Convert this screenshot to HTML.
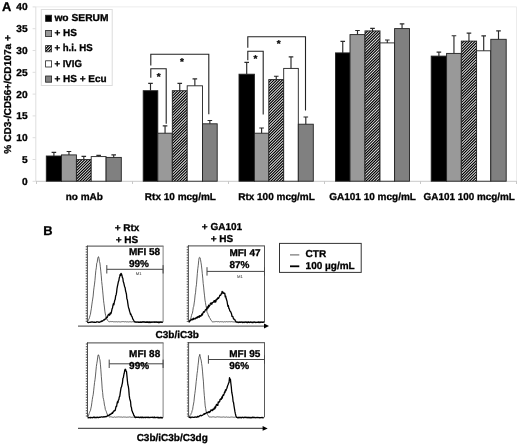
<!DOCTYPE html>
<html><head><meta charset="utf-8"><title>Figure</title>
<style>
html,body{margin:0;padding:0;background:#fff;}
body{width:520px;height:447px;overflow:hidden;font-family:"Liberation Sans",sans-serif;}
svg text{font-family:"Liberation Sans",sans-serif;}
svg{filter:grayscale(1);}
svg text{text-rendering:geometricPrecision;}
</style></head><body>
<svg width="520" height="447" viewBox="0 0 520 447" style="display:block">
<defs>
<pattern id="hatch" patternUnits="userSpaceOnUse" width="1.85" height="1.85" patternTransform="rotate(-45)">
<rect width="1.85" height="1.85" fill="#fff"/>
<rect x="0" y="0" width="1.85" height="1.0" fill="#000"/>
</pattern>
</defs>
<rect width="520" height="447" fill="#fff"/>
<path d="M35.8 6.9 H516.5 V181" fill="none" stroke="#ececec" stroke-width="1"/>
<path d="M35.8 6.9 V181.3" fill="none" stroke="#dedede" stroke-width="1"/>
<path d="M35.8 181.3 H516.5" fill="none" stroke="#c8c8c8" stroke-width="1"/>
<path d="M32.6 181.30 H35.8" stroke="#dedede" stroke-width="1"/>
<path d="M32.6 159.50 H35.8" stroke="#dedede" stroke-width="1"/>
<path d="M32.6 137.70 H35.8" stroke="#dedede" stroke-width="1"/>
<path d="M32.6 115.90 H35.8" stroke="#dedede" stroke-width="1"/>
<path d="M32.6 94.10 H35.8" stroke="#dedede" stroke-width="1"/>
<path d="M32.6 72.30 H35.8" stroke="#dedede" stroke-width="1"/>
<path d="M32.6 50.50 H35.8" stroke="#dedede" stroke-width="1"/>
<path d="M32.6 28.70 H35.8" stroke="#dedede" stroke-width="1"/>
<path d="M32.6 6.90 H35.8" stroke="#dedede" stroke-width="1"/>
<path d="M36.50 181 V184" stroke="#c8c8c8" stroke-width="1"/>
<path d="M132.50 181 V184" stroke="#c8c8c8" stroke-width="1"/>
<path d="M228.50 181 V184" stroke="#c8c8c8" stroke-width="1"/>
<path d="M324.50 181 V184" stroke="#c8c8c8" stroke-width="1"/>
<path d="M420.50 181 V184" stroke="#c8c8c8" stroke-width="1"/>
<path d="M516.50 181 V184" stroke="#c8c8c8" stroke-width="1"/>
<text transform="translate(27.7 184.75) scale(1.02 1)" font-size="10" text-anchor="end" font-family="Liberation Sans, sans-serif" font-weight="bold" fill="#000" stroke="#000" stroke-width="0.3">0</text>
<text transform="translate(27.7 162.95) scale(1.02 1)" font-size="10" text-anchor="end" font-family="Liberation Sans, sans-serif" font-weight="bold" fill="#000" stroke="#000" stroke-width="0.3">5</text>
<text transform="translate(27.7 141.15) scale(1.02 1)" font-size="10" text-anchor="end" font-family="Liberation Sans, sans-serif" font-weight="bold" fill="#000" stroke="#000" stroke-width="0.3">10</text>
<text transform="translate(27.7 119.35) scale(1.02 1)" font-size="10" text-anchor="end" font-family="Liberation Sans, sans-serif" font-weight="bold" fill="#000" stroke="#000" stroke-width="0.3">15</text>
<text transform="translate(27.7 97.55) scale(1.02 1)" font-size="10" text-anchor="end" font-family="Liberation Sans, sans-serif" font-weight="bold" fill="#000" stroke="#000" stroke-width="0.3">20</text>
<text transform="translate(27.7 75.75) scale(1.02 1)" font-size="10" text-anchor="end" font-family="Liberation Sans, sans-serif" font-weight="bold" fill="#000" stroke="#000" stroke-width="0.3">25</text>
<text transform="translate(27.7 53.95) scale(1.02 1)" font-size="10" text-anchor="end" font-family="Liberation Sans, sans-serif" font-weight="bold" fill="#000" stroke="#000" stroke-width="0.3">30</text>
<text transform="translate(27.7 32.15) scale(1.02 1)" font-size="10" text-anchor="end" font-family="Liberation Sans, sans-serif" font-weight="bold" fill="#000" stroke="#000" stroke-width="0.3">35</text>
<text transform="translate(27.7 10.05) scale(1.02 1)" font-size="10" text-anchor="end" font-family="Liberation Sans, sans-serif" font-weight="bold" fill="#000" stroke="#000" stroke-width="0.3">40</text>
<text transform="translate(1.9 10.8) scale(1.0 1)" font-size="12.9" font-family="Liberation Sans, sans-serif" font-weight="bold" fill="#000" stroke="#000" stroke-width="0.3">A</text>
<text transform="translate(11.2,94.4) rotate(-90) scale(1.01 1)" font-size="10" text-anchor="middle" font-family="Liberation Sans, sans-serif" font-weight="bold" fill="#000" stroke="#000" stroke-width="0.3">% CD3-/CD56+/CD107a +</text>
<rect x="46.30" y="156.00" width="15.20" height="25.20" fill="#000" stroke="#222" stroke-width="0.9"/>
<path d="M53.90 156.00 V152.30 M51.60 152.30 H56.20" stroke="#2a2a2a" stroke-width="1.15" fill="none"/>
<rect x="61.50" y="154.90" width="14.90" height="26.30" fill="#999" stroke="#222" stroke-width="0.9"/>
<path d="M68.95 154.90 V151.50 M66.65 151.50 H71.25" stroke="#2a2a2a" stroke-width="1.15" fill="none"/>
<clipPath id="h76"><rect x="76.40" y="159.60" width="14.80" height="21.60"/></clipPath>
<rect x="76.40" y="159.60" width="14.80" height="21.60" fill="#fff"/>
<path d="M75.40 160.60 L92.20 143.80 M75.40 163.40 L92.20 146.60 M75.40 166.20 L92.20 149.40 M75.40 169.00 L92.20 152.20 M75.40 171.80 L92.20 155.00 M75.40 174.60 L92.20 157.80 M75.40 177.40 L92.20 160.60 M75.40 180.20 L92.20 163.40 M75.40 183.00 L92.20 166.20 M75.40 185.80 L92.20 169.00 M75.40 188.60 L92.20 171.80 M75.40 191.40 L92.20 174.60 M75.40 194.20 L92.20 177.40 M75.40 197.00 L92.20 180.20 M75.40 199.80 L92.20 183.00" stroke="#000" stroke-width="1.2" fill="none" clip-path="url(#h76)"/>
<rect x="76.40" y="159.60" width="14.80" height="21.60" fill="none" stroke="#222" stroke-width="0.9"/>
<path d="M83.80 159.60 V156.40 M81.50 156.40 H86.10" stroke="#2a2a2a" stroke-width="1.15" fill="none"/>
<rect x="91.20" y="156.60" width="14.90" height="24.60" fill="#fff" stroke="#222" stroke-width="0.9"/>
<path d="M98.65 156.60 V155.30 M96.35 155.30 H100.95" stroke="#2a2a2a" stroke-width="1.15" fill="none"/>
<rect x="106.10" y="157.40" width="15.20" height="23.80" fill="#808080" stroke="#222" stroke-width="0.9"/>
<path d="M113.70 157.40 V154.80 M111.40 154.80 H116.00" stroke="#2a2a2a" stroke-width="1.15" fill="none"/>
<rect x="143.20" y="90.70" width="14.60" height="90.50" fill="#000" stroke="#222" stroke-width="0.9"/>
<path d="M150.50 90.70 V83.30 M148.20 83.30 H152.80" stroke="#2a2a2a" stroke-width="1.15" fill="none"/>
<rect x="157.80" y="133.20" width="14.50" height="48.00" fill="#999" stroke="#222" stroke-width="0.9"/>
<path d="M165.05 133.20 V125.80 M162.75 125.80 H167.35" stroke="#2a2a2a" stroke-width="1.15" fill="none"/>
<clipPath id="h172"><rect x="172.30" y="90.70" width="14.90" height="90.50"/></clipPath>
<rect x="172.30" y="90.70" width="14.90" height="90.50" fill="#fff"/>
<path d="M171.30 91.70 L188.20 74.80 M171.30 94.50 L188.20 77.60 M171.30 97.30 L188.20 80.40 M171.30 100.10 L188.20 83.20 M171.30 102.90 L188.20 86.00 M171.30 105.70 L188.20 88.80 M171.30 108.50 L188.20 91.60 M171.30 111.30 L188.20 94.40 M171.30 114.10 L188.20 97.20 M171.30 116.90 L188.20 100.00 M171.30 119.70 L188.20 102.80 M171.30 122.50 L188.20 105.60 M171.30 125.30 L188.20 108.40 M171.30 128.10 L188.20 111.20 M171.30 130.90 L188.20 114.00 M171.30 133.70 L188.20 116.80 M171.30 136.50 L188.20 119.60 M171.30 139.30 L188.20 122.40 M171.30 142.10 L188.20 125.20 M171.30 144.90 L188.20 128.00 M171.30 147.70 L188.20 130.80 M171.30 150.50 L188.20 133.60 M171.30 153.30 L188.20 136.40 M171.30 156.10 L188.20 139.20 M171.30 158.90 L188.20 142.00 M171.30 161.70 L188.20 144.80 M171.30 164.50 L188.20 147.60 M171.30 167.30 L188.20 150.40 M171.30 170.10 L188.20 153.20 M171.30 172.90 L188.20 156.00 M171.30 175.70 L188.20 158.80 M171.30 178.50 L188.20 161.60 M171.30 181.30 L188.20 164.40 M171.30 184.10 L188.20 167.20 M171.30 186.90 L188.20 170.00 M171.30 189.70 L188.20 172.80 M171.30 192.50 L188.20 175.60 M171.30 195.30 L188.20 178.40 M171.30 198.10 L188.20 181.20" stroke="#000" stroke-width="1.2" fill="none" clip-path="url(#h172)"/>
<rect x="172.30" y="90.70" width="14.90" height="90.50" fill="none" stroke="#222" stroke-width="0.9"/>
<path d="M179.75 90.70 V83.30 M177.45 83.30 H182.05" stroke="#2a2a2a" stroke-width="1.15" fill="none"/>
<rect x="187.20" y="85.80" width="15.30" height="95.40" fill="#fff" stroke="#222" stroke-width="0.9"/>
<path d="M194.85 85.80 V78.90 M192.55 78.90 H197.15" stroke="#2a2a2a" stroke-width="1.15" fill="none"/>
<rect x="202.50" y="123.80" width="14.70" height="57.40" fill="#808080" stroke="#222" stroke-width="0.9"/>
<path d="M209.85 123.80 V120.50 M207.55 120.50 H212.15" stroke="#2a2a2a" stroke-width="1.15" fill="none"/>
<rect x="239.00" y="74.20" width="15.40" height="107.00" fill="#000" stroke="#222" stroke-width="0.9"/>
<path d="M246.70 74.20 V62.40 M244.40 62.40 H249.00" stroke="#2a2a2a" stroke-width="1.15" fill="none"/>
<rect x="254.40" y="133.20" width="14.40" height="48.00" fill="#999" stroke="#222" stroke-width="0.9"/>
<path d="M261.60 133.20 V128.00 M259.30 128.00 H263.90" stroke="#2a2a2a" stroke-width="1.15" fill="none"/>
<clipPath id="h268"><rect x="268.80" y="79.60" width="14.90" height="101.60"/></clipPath>
<rect x="268.80" y="79.60" width="14.90" height="101.60" fill="#fff"/>
<path d="M267.80 80.60 L284.70 63.70 M267.80 83.40 L284.70 66.50 M267.80 86.20 L284.70 69.30 M267.80 89.00 L284.70 72.10 M267.80 91.80 L284.70 74.90 M267.80 94.60 L284.70 77.70 M267.80 97.40 L284.70 80.50 M267.80 100.20 L284.70 83.30 M267.80 103.00 L284.70 86.10 M267.80 105.80 L284.70 88.90 M267.80 108.60 L284.70 91.70 M267.80 111.40 L284.70 94.50 M267.80 114.20 L284.70 97.30 M267.80 117.00 L284.70 100.10 M267.80 119.80 L284.70 102.90 M267.80 122.60 L284.70 105.70 M267.80 125.40 L284.70 108.50 M267.80 128.20 L284.70 111.30 M267.80 131.00 L284.70 114.10 M267.80 133.80 L284.70 116.90 M267.80 136.60 L284.70 119.70 M267.80 139.40 L284.70 122.50 M267.80 142.20 L284.70 125.30 M267.80 145.00 L284.70 128.10 M267.80 147.80 L284.70 130.90 M267.80 150.60 L284.70 133.70 M267.80 153.40 L284.70 136.50 M267.80 156.20 L284.70 139.30 M267.80 159.00 L284.70 142.10 M267.80 161.80 L284.70 144.90 M267.80 164.60 L284.70 147.70 M267.80 167.40 L284.70 150.50 M267.80 170.20 L284.70 153.30 M267.80 173.00 L284.70 156.10 M267.80 175.80 L284.70 158.90 M267.80 178.60 L284.70 161.70 M267.80 181.40 L284.70 164.50 M267.80 184.20 L284.70 167.30 M267.80 187.00 L284.70 170.10 M267.80 189.80 L284.70 172.90 M267.80 192.60 L284.70 175.70 M267.80 195.40 L284.70 178.50 M267.80 198.20 L284.70 181.30" stroke="#000" stroke-width="1.2" fill="none" clip-path="url(#h268)"/>
<rect x="268.80" y="79.60" width="14.90" height="101.60" fill="none" stroke="#222" stroke-width="0.9"/>
<path d="M276.25 79.60 V76.20 M273.95 76.20 H278.55" stroke="#2a2a2a" stroke-width="1.15" fill="none"/>
<rect x="283.70" y="68.40" width="14.60" height="112.80" fill="#fff" stroke="#222" stroke-width="0.9"/>
<path d="M291.00 68.40 V56.80 M288.70 56.80 H293.30" stroke="#2a2a2a" stroke-width="1.15" fill="none"/>
<rect x="298.30" y="124.20" width="15.00" height="57.00" fill="#808080" stroke="#222" stroke-width="0.9"/>
<path d="M305.80 124.20 V117.00 M303.50 117.00 H308.10" stroke="#2a2a2a" stroke-width="1.15" fill="none"/>
<rect x="335.50" y="52.90" width="14.50" height="128.30" fill="#000" stroke="#222" stroke-width="0.9"/>
<path d="M342.75 52.90 V41.30 M340.45 41.30 H345.05" stroke="#2a2a2a" stroke-width="1.15" fill="none"/>
<rect x="350.00" y="34.60" width="15.00" height="146.60" fill="#999" stroke="#222" stroke-width="0.9"/>
<path d="M357.50 34.60 V30.50 M355.20 30.50 H359.80" stroke="#2a2a2a" stroke-width="1.15" fill="none"/>
<clipPath id="h365"><rect x="365.00" y="30.90" width="15.00" height="150.30"/></clipPath>
<rect x="365.00" y="30.90" width="15.00" height="150.30" fill="#fff"/>
<path d="M364.00 31.90 L381.00 14.90 M364.00 34.70 L381.00 17.70 M364.00 37.50 L381.00 20.50 M364.00 40.30 L381.00 23.30 M364.00 43.10 L381.00 26.10 M364.00 45.90 L381.00 28.90 M364.00 48.70 L381.00 31.70 M364.00 51.50 L381.00 34.50 M364.00 54.30 L381.00 37.30 M364.00 57.10 L381.00 40.10 M364.00 59.90 L381.00 42.90 M364.00 62.70 L381.00 45.70 M364.00 65.50 L381.00 48.50 M364.00 68.30 L381.00 51.30 M364.00 71.10 L381.00 54.10 M364.00 73.90 L381.00 56.90 M364.00 76.70 L381.00 59.70 M364.00 79.50 L381.00 62.50 M364.00 82.30 L381.00 65.30 M364.00 85.10 L381.00 68.10 M364.00 87.90 L381.00 70.90 M364.00 90.70 L381.00 73.70 M364.00 93.50 L381.00 76.50 M364.00 96.30 L381.00 79.30 M364.00 99.10 L381.00 82.10 M364.00 101.90 L381.00 84.90 M364.00 104.70 L381.00 87.70 M364.00 107.50 L381.00 90.50 M364.00 110.30 L381.00 93.30 M364.00 113.10 L381.00 96.10 M364.00 115.90 L381.00 98.90 M364.00 118.70 L381.00 101.70 M364.00 121.50 L381.00 104.50 M364.00 124.30 L381.00 107.30 M364.00 127.10 L381.00 110.10 M364.00 129.90 L381.00 112.90 M364.00 132.70 L381.00 115.70 M364.00 135.50 L381.00 118.50 M364.00 138.30 L381.00 121.30 M364.00 141.10 L381.00 124.10 M364.00 143.90 L381.00 126.90 M364.00 146.70 L381.00 129.70 M364.00 149.50 L381.00 132.50 M364.00 152.30 L381.00 135.30 M364.00 155.10 L381.00 138.10 M364.00 157.90 L381.00 140.90 M364.00 160.70 L381.00 143.70 M364.00 163.50 L381.00 146.50 M364.00 166.30 L381.00 149.30 M364.00 169.10 L381.00 152.10 M364.00 171.90 L381.00 154.90 M364.00 174.70 L381.00 157.70 M364.00 177.50 L381.00 160.50 M364.00 180.30 L381.00 163.30 M364.00 183.10 L381.00 166.10 M364.00 185.90 L381.00 168.90 M364.00 188.70 L381.00 171.70 M364.00 191.50 L381.00 174.50 M364.00 194.30 L381.00 177.30 M364.00 197.10 L381.00 180.10 M364.00 199.90 L381.00 182.90" stroke="#000" stroke-width="1.2" fill="none" clip-path="url(#h365)"/>
<rect x="365.00" y="30.90" width="15.00" height="150.30" fill="none" stroke="#222" stroke-width="0.9"/>
<path d="M372.50 30.90 V28.30 M370.20 28.30 H374.80" stroke="#2a2a2a" stroke-width="1.15" fill="none"/>
<rect x="380.00" y="42.90" width="14.60" height="138.30" fill="#fff" stroke="#222" stroke-width="0.9"/>
<path d="M387.30 42.90 V40.00 M385.00 40.00 H389.60" stroke="#2a2a2a" stroke-width="1.15" fill="none"/>
<rect x="394.60" y="28.60" width="14.90" height="152.60" fill="#808080" stroke="#222" stroke-width="0.9"/>
<path d="M402.05 28.60 V23.80 M399.75 23.80 H404.35" stroke="#2a2a2a" stroke-width="1.15" fill="none"/>
<rect x="431.20" y="56.10" width="15.40" height="125.10" fill="#000" stroke="#222" stroke-width="0.9"/>
<path d="M438.90 56.10 V52.10 M436.60 52.10 H441.20" stroke="#2a2a2a" stroke-width="1.15" fill="none"/>
<rect x="446.60" y="53.40" width="14.70" height="127.80" fill="#999" stroke="#222" stroke-width="0.9"/>
<path d="M453.95 53.40 V35.70 M451.65 35.70 H456.25" stroke="#2a2a2a" stroke-width="1.15" fill="none"/>
<clipPath id="h461"><rect x="461.30" y="41.10" width="15.30" height="140.10"/></clipPath>
<rect x="461.30" y="41.10" width="15.30" height="140.10" fill="#fff"/>
<path d="M460.30 42.10 L477.60 24.80 M460.30 44.90 L477.60 27.60 M460.30 47.70 L477.60 30.40 M460.30 50.50 L477.60 33.20 M460.30 53.30 L477.60 36.00 M460.30 56.10 L477.60 38.80 M460.30 58.90 L477.60 41.60 M460.30 61.70 L477.60 44.40 M460.30 64.50 L477.60 47.20 M460.30 67.30 L477.60 50.00 M460.30 70.10 L477.60 52.80 M460.30 72.90 L477.60 55.60 M460.30 75.70 L477.60 58.40 M460.30 78.50 L477.60 61.20 M460.30 81.30 L477.60 64.00 M460.30 84.10 L477.60 66.80 M460.30 86.90 L477.60 69.60 M460.30 89.70 L477.60 72.40 M460.30 92.50 L477.60 75.20 M460.30 95.30 L477.60 78.00 M460.30 98.10 L477.60 80.80 M460.30 100.90 L477.60 83.60 M460.30 103.70 L477.60 86.40 M460.30 106.50 L477.60 89.20 M460.30 109.30 L477.60 92.00 M460.30 112.10 L477.60 94.80 M460.30 114.90 L477.60 97.60 M460.30 117.70 L477.60 100.40 M460.30 120.50 L477.60 103.20 M460.30 123.30 L477.60 106.00 M460.30 126.10 L477.60 108.80 M460.30 128.90 L477.60 111.60 M460.30 131.70 L477.60 114.40 M460.30 134.50 L477.60 117.20 M460.30 137.30 L477.60 120.00 M460.30 140.10 L477.60 122.80 M460.30 142.90 L477.60 125.60 M460.30 145.70 L477.60 128.40 M460.30 148.50 L477.60 131.20 M460.30 151.30 L477.60 134.00 M460.30 154.10 L477.60 136.80 M460.30 156.90 L477.60 139.60 M460.30 159.70 L477.60 142.40 M460.30 162.50 L477.60 145.20 M460.30 165.30 L477.60 148.00 M460.30 168.10 L477.60 150.80 M460.30 170.90 L477.60 153.60 M460.30 173.70 L477.60 156.40 M460.30 176.50 L477.60 159.20 M460.30 179.30 L477.60 162.00 M460.30 182.10 L477.60 164.80 M460.30 184.90 L477.60 167.60 M460.30 187.70 L477.60 170.40 M460.30 190.50 L477.60 173.20 M460.30 193.30 L477.60 176.00 M460.30 196.10 L477.60 178.80 M460.30 198.90 L477.60 181.60" stroke="#000" stroke-width="1.2" fill="none" clip-path="url(#h461)"/>
<rect x="461.30" y="41.10" width="15.30" height="140.10" fill="none" stroke="#222" stroke-width="0.9"/>
<path d="M468.95 41.10 V33.10 M466.65 33.10 H471.25" stroke="#2a2a2a" stroke-width="1.15" fill="none"/>
<rect x="476.60" y="50.80" width="14.20" height="130.40" fill="#fff" stroke="#222" stroke-width="0.9"/>
<path d="M483.70 50.80 V35.80 M481.40 35.80 H486.00" stroke="#2a2a2a" stroke-width="1.15" fill="none"/>
<rect x="490.80" y="39.30" width="15.40" height="141.90" fill="#808080" stroke="#222" stroke-width="0.9"/>
<path d="M498.50 39.30 V30.80 M496.20 30.80 H500.80" stroke="#2a2a2a" stroke-width="1.15" fill="none"/>
<text transform="translate(84.30 200.0) scale(1.0 1)" font-size="10" text-anchor="middle" font-family="Liberation Sans, sans-serif" font-weight="bold" fill="#000" stroke="#000" stroke-width="0.3">no mAb</text>
<text transform="translate(180.40 200.0) scale(1.0 1)" font-size="10" text-anchor="middle" font-family="Liberation Sans, sans-serif" font-weight="bold" fill="#000" stroke="#000" stroke-width="0.3">Rtx 10 mcg/mL</text>
<text transform="translate(276.50 200.0) scale(1.0 1)" font-size="10" text-anchor="middle" font-family="Liberation Sans, sans-serif" font-weight="bold" fill="#000" stroke="#000" stroke-width="0.3">Rtx 100 mcg/mL</text>
<text transform="translate(372.60 200.0) scale(1.0 1)" font-size="10" text-anchor="middle" font-family="Liberation Sans, sans-serif" font-weight="bold" fill="#000" stroke="#000" stroke-width="0.3">GA101 10 mcg/mL</text>
<text transform="translate(469.20 200.0) scale(0.99 1)" font-size="10" text-anchor="middle" font-family="Liberation Sans, sans-serif" font-weight="bold" fill="#000" stroke="#000" stroke-width="0.3">GA101 100 mcg/mL</text>
<rect x="41.3" y="9.5" width="70.9" height="76" fill="#fff" stroke="#dcdcdc" stroke-width="1"/>
<rect x="45.6" y="15.20" width="6" height="6.2" fill="#000" stroke="#222" stroke-width="0.8"/>
<text transform="translate(54.4 20.90) scale(1.024 1)" font-size="10" font-family="Liberation Sans, sans-serif" font-weight="bold" fill="#000" stroke="#000" stroke-width="0.3">wo SERUM</text>
<rect x="45.6" y="30.40" width="6" height="6.2" fill="#999" stroke="#222" stroke-width="0.8"/>
<text transform="translate(54.4 36.10) scale(1.0 1)" font-size="10" font-family="Liberation Sans, sans-serif" font-weight="bold" fill="#000" stroke="#000" stroke-width="0.3">+ HS</text>
<clipPath id="lgh"><rect x="45.6" y="45.60" width="6" height="6.2"/></clipPath>
<rect x="45.6" y="45.60" width="6" height="6.2" fill="#fff"/>
<path d="M44.6 49.70 l5 -5 M44.6 52.60 l8 -8 M47.7 52.50 l5 -5" stroke="#000" stroke-width="1.25" clip-path="url(#lgh)"/>
<rect x="45.6" y="45.60" width="6" height="6.2" fill="none" stroke="#222" stroke-width="0.8"/>
<text transform="translate(54.4 51.30) scale(0.965 1)" font-size="10" font-family="Liberation Sans, sans-serif" font-weight="bold" fill="#000" stroke="#000" stroke-width="0.3">+ h.i. HS</text>
<rect x="45.6" y="60.80" width="6" height="6.2" fill="#fff" stroke="#222" stroke-width="0.8"/>
<text transform="translate(54.4 66.50) scale(0.96 1)" font-size="10" font-family="Liberation Sans, sans-serif" font-weight="bold" fill="#000" stroke="#000" stroke-width="0.3">+ IVIG</text>
<rect x="45.6" y="76.00" width="6" height="6.2" fill="#808080" stroke="#222" stroke-width="0.8"/>
<text transform="translate(54.4 81.70) scale(1.0 1)" font-size="10" font-family="Liberation Sans, sans-serif" font-weight="bold" fill="#000" stroke="#000" stroke-width="0.3">+ HS + Ecu</text>
<path d="M150.8 65.4 V54.2 H208.8 V114.2" fill="none" stroke="#222" stroke-width="1.1"/>
<path d="M150.8 77.8 V68.7 H166.2 V123.8" fill="none" stroke="#222" stroke-width="1.1"/>
<path d="M247.8 47.8 V36.7 H305.5 V110.4" fill="none" stroke="#222" stroke-width="1.1"/>
<path d="M247.8 60.3 V51.2 H263.2 V114.6" fill="none" stroke="#222" stroke-width="1.1"/>
<text transform="translate(181.9 64.6) scale(1.0 1)" font-size="10" text-anchor="middle" font-family="Liberation Sans, sans-serif" font-weight="bold" fill="#000" stroke="#000" stroke-width="0.3">*</text>
<text transform="translate(158.8 79.6) scale(1.0 1)" font-size="10" text-anchor="middle" font-family="Liberation Sans, sans-serif" font-weight="bold" fill="#000" stroke="#000" stroke-width="0.3">*</text>
<text transform="translate(278.6 46.8) scale(1.0 1)" font-size="10" text-anchor="middle" font-family="Liberation Sans, sans-serif" font-weight="bold" fill="#000" stroke="#000" stroke-width="0.3">*</text>
<text transform="translate(255.5 62.2) scale(1.0 1)" font-size="10" text-anchor="middle" font-family="Liberation Sans, sans-serif" font-weight="bold" fill="#000" stroke="#000" stroke-width="0.3">*</text>
<text transform="translate(43.2 234.7) scale(1.0 1)" font-size="12.9" font-family="Liberation Sans, sans-serif" font-weight="bold" fill="#000" stroke="#000" stroke-width="0.3">B</text>
<text transform="translate(127 230.9) scale(1.0 1)" font-size="10" text-anchor="middle" font-family="Liberation Sans, sans-serif" font-weight="bold" fill="#000" stroke="#000" stroke-width="0.3">+ Rtx</text>
<text transform="translate(127 242.8) scale(1.0 1)" font-size="10" text-anchor="middle" font-family="Liberation Sans, sans-serif" font-weight="bold" fill="#000" stroke="#000" stroke-width="0.3">+ HS</text>
<text transform="translate(222 230.3) scale(1.0 1)" font-size="10" text-anchor="middle" font-family="Liberation Sans, sans-serif" font-weight="bold" fill="#000" stroke="#000" stroke-width="0.3">+ GA101</text>
<text transform="translate(222.0 242.1) scale(1.0 1)" font-size="10" text-anchor="middle" font-family="Liberation Sans, sans-serif" font-weight="bold" fill="#000" stroke="#000" stroke-width="0.3">+ HS</text>
<path d="M87.10000000000001 246.1 H163.5" stroke="#6a6a6a" stroke-width="1.2" fill="none"/>
<path d="M163.1 246.1 V322.0" stroke="#808080" stroke-width="1.0" fill="none"/>
<path d="M87.4 245.6 V322.0" stroke="#222" stroke-width="0.8" fill="none"/>
<path d="M86.4 246.1 V322.0" stroke="#444" stroke-width="1.4" stroke-dasharray="0.6 1.0" fill="none"/>
<path d="M87.30 321.93 L87.75 321.14 L88.20 320.71 L88.65 319.53 L89.10 318.77 L89.55 317.32 L90.00 315.58 L90.45 314.38 L90.90 311.02 L91.35 308.69 L91.80 304.92 L92.25 301.82 L92.70 299.05 L93.15 296.11 L93.60 290.92 L94.05 287.28 L94.50 284.08 L94.95 280.37 L95.40 275.15 L95.85 270.41 L96.30 267.80 L96.75 263.17 L97.20 262.36 L97.65 259.06 L98.10 257.12 L98.55 256.68 L99.00 258.37 L99.45 261.63 L99.90 262.92 L100.35 266.77 L100.80 271.15 L101.25 275.86 L101.70 281.53 L102.15 285.54 L102.60 290.14 L103.05 294.93 L103.50 300.18 L103.95 303.61 L104.40 307.04 L104.85 311.16 L105.30 313.97 L105.75 315.71 L106.20 317.60 L106.65 318.77 L107.10 319.44 L107.55 320.30 L108.00 320.71 L108.45 321.34 L108.90 321.62 L109.35 321.58 L109.80 321.91 L110.25 321.54 L110.70 321.67 L111.15 321.82 L111.60 321.56 L112.05 321.71 L112.50 321.52 L112.95 321.79 L113.40 321.84 L113.85 321.76 L114.30 321.89 L114.75 321.65 L115.20 321.82 L115.65 321.78 L116.10 321.77 L116.55 321.72 L117.00 321.89 L117.45 321.94 L117.90 321.74 L118.35 321.82 L118.80 321.57 L119.25 321.84 L119.70 321.82 L120.15 321.97 L120.60 321.90 L121.05 321.68 L121.50 321.72 L121.95 321.84 L122.40 321.57 L122.85 321.76 L123.30 321.64 L123.75 321.62 L124.20 321.60 L124.65 321.90 L125.10 321.63 L125.55 321.69 L126.00 321.75 L126.45 321.95 L126.90 321.62 L127.35 321.78 L127.80 321.83 L128.25 321.97 L128.70 321.94 L129.15 321.96 L129.60 321.72 L130.05 321.78 L130.50 321.76 L130.95 321.98 L131.40 322.01 L131.85 321.68 L132.30 321.70 L132.75 321.72 L133.20 321.72 L133.65 321.83 L134.10 321.88 L134.55 321.74 L135.00 321.64 L135.45 321.81 L135.90 321.80 L136.35 321.88 L136.80 322.04 L137.25 321.94 L137.70 321.87 L138.15 321.91 L138.60 321.94 L139.05 321.68 L139.50 322.03 L139.95 321.99 L140.40 322.03 L140.85 322.00 L141.30 321.84 L141.75 321.84 L142.20 321.72 L142.65 321.94 L143.10 321.71 L143.55 321.72 L144.00 321.78 L144.45 321.76 L144.90 321.83 L145.35 321.72 L145.80 321.70 L146.25 321.77 L146.70 321.75 L147.15 321.86 L147.60 321.72 L148.05 322.07 L148.50 321.97 L148.95 321.78 L149.40 321.82 L149.85 321.87 L150.30 321.87 L150.75 321.78 L151.20 322.07 L151.65 322.13 L152.10 321.93 L152.55 321.94 L153.00 321.78 L153.45 321.79 L153.90 321.89 L154.35 321.86 L154.80 322.09 L155.25 321.82 L155.70 321.77 L156.15 322.14 L156.60 321.98 L157.05 321.83 L157.50 321.99 L157.95 321.78 L158.40 321.99 L158.85 322.17 L159.30 322.12 L159.75 322.06 L160.20 321.89 L160.65 321.93 L161.10 321.86 L161.55 322.10 L162.00 322.01 L162.45 322.11 L162.90 321.93" stroke="#3a3a3a" stroke-width="0.8" fill="none" stroke-linejoin="round"/>
<path d="M87.30 322.14 L87.75 322.47 L88.20 322.56 L88.65 322.48 L89.10 322.44 L89.55 322.44 L90.00 322.38 L90.45 322.06 L90.90 322.23 L91.35 322.12 L91.80 321.91 L92.25 321.90 L92.70 322.04 L93.15 322.02 L93.60 322.27 L94.05 322.42 L94.50 322.10 L94.95 322.39 L95.40 322.41 L95.85 322.38 L96.30 322.00 L96.75 321.90 L97.20 321.89 L97.65 321.86 L98.10 321.86 L98.55 322.11 L99.00 322.28 L99.45 322.23 L99.90 321.95 L100.35 321.91 L100.80 321.80 L101.25 321.03 L101.70 321.24 L102.15 321.23 L102.60 320.90 L103.05 320.64 L103.50 320.15 L103.95 319.60 L104.40 319.96 L104.85 319.04 L105.30 319.14 L105.75 318.93 L106.20 317.68 L106.65 317.21 L107.10 317.59 L107.55 316.74 L108.00 315.22 L108.45 314.57 L108.90 314.07 L109.35 315.21 L109.80 314.72 L110.25 312.95 L110.70 313.87 L111.15 313.22 L111.60 311.11 L112.05 308.88 L112.50 308.00 L112.95 305.36 L113.40 303.56 L113.85 304.77 L114.30 302.35 L114.75 300.25 L115.20 299.37 L115.65 295.84 L116.10 294.93 L116.55 292.59 L117.00 288.52 L117.45 286.24 L117.90 284.04 L118.35 281.80 L118.80 280.82 L119.25 277.98 L119.70 276.66 L120.15 274.45 L120.60 275.48 L121.05 273.31 L121.50 274.03 L121.95 275.43 L122.40 277.70 L122.85 278.24 L123.30 281.80 L123.75 282.78 L124.20 284.96 L124.65 286.95 L125.10 287.54 L125.55 290.78 L126.00 292.31 L126.45 294.26 L126.90 299.03 L127.35 299.77 L127.80 303.05 L128.25 306.15 L128.70 307.97 L129.15 309.25 L129.60 311.25 L130.05 312.61 L130.50 314.35 L130.95 314.05 L131.40 315.93 L131.85 316.33 L132.30 317.33 L132.75 318.93 L133.20 319.45 L133.65 320.24 L134.10 321.05 L134.55 321.77 L135.00 321.91 L135.45 322.17 L135.90 322.11 L136.35 322.12 L136.80 322.23 L137.25 322.09 L137.70 322.14 L138.15 322.11 L138.60 322.40 L139.05 322.25 L139.50 322.36 L139.95 322.41 L140.40 321.99 L140.85 322.18 L141.30 322.42 L141.75 322.36 L142.20 321.93 L142.65 321.92 L143.10 322.12 L143.55 321.90 L144.00 322.01 L144.45 321.91 L144.90 322.27 L145.35 322.35 L145.80 322.42 L146.25 321.97 L146.70 322.31 L147.15 322.28 L147.60 321.97 L148.05 322.42 L148.50 322.48 L148.95 322.03 L149.40 322.47 L149.85 322.14 L150.30 322.20 L150.75 322.51 L151.20 322.41 L151.65 322.02 L152.10 322.18 L152.55 322.23 L153.00 322.13 L153.45 322.05 L153.90 322.13 L154.35 322.37 L154.80 321.96 L155.25 322.28 L155.70 322.21 L156.15 321.97 L156.60 322.15 L157.05 322.33 L157.50 322.27 L157.95 322.01 L158.40 322.55 L158.85 322.44 L159.30 322.55 L159.75 322.04 L160.20 322.14 L160.65 322.01 L161.10 322.45 L161.55 322.16 L162.00 322.08 L162.45 322.25 L162.90 322.54" stroke="#000" stroke-width="1.3" fill="none" stroke-linejoin="round"/>
<path d="M106.8 269.3 H163.1 M106.8 265.1 V273.5 M163.1 265.1 V273.5" stroke="#444" stroke-width="1" fill="none"/>
<text x="138.6" y="275.0" font-size="4.2" text-anchor="middle" font-family="Liberation Sans, sans-serif" fill="#222">M1</text>
<text transform="translate(129.0 255.4) scale(1.0 1)" font-size="10" font-family="Liberation Sans, sans-serif" font-weight="bold" fill="#000" stroke="#000" stroke-width="0.3">MFI 58</text>
<text transform="translate(129.0 267.3) scale(1.0 1)" font-size="10" font-family="Liberation Sans, sans-serif" font-weight="bold" fill="#000" stroke="#000" stroke-width="0.3">99%</text>
<path d="M188.1 245.9 H264.9" stroke="#6a6a6a" stroke-width="1.2" fill="none"/>
<path d="M264.5 245.9 V322.0" stroke="#555" stroke-width="1.0" fill="none"/>
<path d="M188.4 245.4 V322.0" stroke="#222" stroke-width="0.8" fill="none"/>
<path d="M187.4 245.9 V322.0" stroke="#444" stroke-width="1.4" stroke-dasharray="0.6 1.0" fill="none"/>
<path d="M188.80 322.13 L189.25 320.98 L189.70 319.98 L190.15 319.62 L190.60 318.40 L191.05 317.41 L191.50 315.41 L191.95 313.94 L192.40 313.24 L192.85 310.60 L193.30 307.31 L193.75 306.32 L194.20 302.95 L194.65 300.12 L195.10 295.09 L195.55 292.77 L196.00 287.40 L196.45 284.77 L196.90 279.01 L197.35 273.36 L197.80 268.72 L198.25 265.32 L198.70 260.73 L199.15 257.78 L199.60 257.32 L200.05 257.65 L200.50 259.56 L200.95 262.28 L201.40 265.11 L201.85 269.11 L202.30 273.63 L202.75 278.12 L203.20 283.51 L203.65 287.09 L204.10 292.00 L204.55 295.87 L205.00 300.18 L205.45 302.49 L205.90 305.38 L206.35 307.36 L206.80 311.14 L207.25 312.74 L207.70 313.42 L208.15 314.73 L208.60 316.18 L209.05 316.09 L209.50 317.72 L209.95 318.17 L210.40 319.01 L210.85 320.00 L211.30 320.46 L211.75 321.20 L212.20 321.68 L212.65 321.91 L213.10 321.64 L213.55 321.85 L214.00 321.80 L214.45 321.78 L214.90 321.68 L215.35 321.66 L215.80 321.54 L216.25 321.57 L216.70 321.55 L217.15 321.84 L217.60 321.64 L218.05 321.60 L218.50 321.57 L218.95 321.90 L219.40 321.91 L219.85 321.83 L220.30 321.67 L220.75 321.66 L221.20 321.68 L221.65 321.76 L222.10 321.63 L222.55 321.76 L223.00 321.68 L223.45 321.98 L223.90 321.99 L224.35 321.81 L224.80 321.69 L225.25 322.00 L225.70 321.72 L226.15 321.75 L226.60 321.60 L227.05 321.77 L227.50 321.81 L227.95 321.82 L228.40 321.70 L228.85 321.83 L229.30 321.63 L229.75 321.74 L230.20 321.67 L230.65 321.80 L231.10 321.66 L231.55 321.65 L232.00 321.77 L232.45 321.75 L232.90 321.89 L233.35 321.87 L233.80 321.97 L234.25 321.93 L234.70 321.96 L235.15 322.03 L235.60 321.84 L236.05 321.81 L236.50 322.08 L236.95 321.75 L237.40 321.98 L237.85 321.96 L238.30 321.72 L238.75 322.04 L239.20 322.07 L239.65 321.96 L240.10 322.01 L240.55 322.04 L241.00 321.78 L241.45 321.93 L241.90 321.93 L242.35 322.07 L242.80 322.06 L243.25 322.07 L243.70 321.98 L244.15 322.10 L244.60 322.02 L245.05 322.03 L245.50 321.85 L245.95 321.77 L246.40 321.82 L246.85 321.91 L247.30 321.81 L247.75 322.11 L248.20 322.00 L248.65 322.03 L249.10 322.03 L249.55 322.06 L250.00 321.99 L250.45 321.80 L250.90 322.11 L251.35 322.10 L251.80 322.00 L252.25 322.02 L252.70 322.07 L253.15 321.84 L253.60 322.11 L254.05 321.92 L254.50 321.86 L254.95 321.94 L255.40 322.12 L255.85 321.92 L256.30 322.13 L256.75 322.23 L257.20 322.04 L257.65 322.00 L258.10 322.04 L258.55 322.13 L259.00 322.16 L259.45 322.11 L259.90 322.12 L260.35 321.91 L260.80 321.94 L261.25 321.98 L261.70 322.17 L262.15 322.01 L262.60 322.11 L263.05 321.90 L263.50 321.93 L263.95 322.01 L264.40 322.17" stroke="#3a3a3a" stroke-width="0.8" fill="none" stroke-linejoin="round"/>
<path d="M188.80 322.41 L189.25 321.91 L189.70 321.12 L190.15 320.79 L190.60 320.23 L191.05 319.80 L191.50 319.16 L191.95 319.86 L192.40 318.92 L192.85 319.69 L193.30 319.50 L193.75 318.21 L194.20 318.61 L194.65 318.94 L195.10 318.99 L195.55 318.15 L196.00 317.73 L196.45 317.44 L196.90 318.29 L197.35 316.95 L197.80 317.29 L198.25 316.34 L198.70 316.72 L199.15 317.22 L199.60 315.56 L200.05 316.51 L200.50 315.63 L200.95 316.02 L201.40 315.33 L201.85 314.03 L202.30 315.08 L202.75 313.84 L203.20 312.34 L203.65 311.71 L204.10 312.32 L204.55 311.66 L205.00 310.69 L205.45 309.67 L205.90 309.68 L206.35 309.02 L206.80 309.85 L207.25 306.83 L207.70 308.25 L208.15 307.83 L208.60 305.13 L209.05 306.72 L209.50 305.47 L209.95 305.45 L210.40 303.32 L210.85 303.18 L211.30 302.90 L211.75 304.39 L212.20 303.13 L212.65 302.41 L213.10 302.47 L213.55 301.80 L214.00 300.84 L214.45 300.66 L214.90 302.38 L215.35 300.50 L215.80 301.95 L216.25 299.63 L216.70 299.27 L217.15 299.51 L217.60 298.00 L218.05 297.74 L218.50 298.55 L218.95 297.52 L219.40 296.48 L219.85 295.22 L220.30 295.46 L220.75 295.14 L221.20 293.67 L221.65 293.77 L222.10 291.48 L222.55 292.97 L223.00 292.01 L223.45 293.16 L223.90 293.43 L224.35 293.10 L224.80 293.33 L225.25 296.88 L225.70 296.00 L226.15 298.55 L226.60 299.82 L227.05 301.27 L227.50 304.05 L227.95 306.25 L228.40 305.77 L228.85 308.41 L229.30 308.81 L229.75 310.68 L230.20 311.26 L230.65 311.75 L231.10 312.82 L231.55 313.99 L232.00 316.27 L232.45 316.27 L232.90 316.55 L233.35 318.31 L233.80 319.10 L234.25 319.11 L234.70 319.54 L235.15 320.40 L235.60 321.14 L236.05 321.94 L236.50 322.04 L236.95 322.15 L237.40 322.16 L237.85 322.34 L238.30 322.53 L238.75 322.45 L239.20 322.25 L239.65 322.25 L240.10 322.31 L240.55 322.23 L241.00 322.21 L241.45 322.04 L241.90 322.17 L242.35 322.57 L242.80 322.08 L243.25 322.30 L243.70 322.38 L244.15 322.51 L244.60 322.13 L245.05 322.17 L245.50 322.15 L245.95 322.24 L246.40 322.27 L246.85 322.56 L247.30 322.50 L247.75 322.52 L248.20 322.02 L248.65 322.03 L249.10 322.42 L249.55 322.53 L250.00 322.28 L250.45 322.35 L250.90 322.01 L251.35 322.24 L251.80 322.55 L252.25 322.49 L252.70 322.51 L253.15 322.58 L253.60 322.15 L254.05 322.07 L254.50 322.10 L254.95 322.31 L255.40 322.41 L255.85 322.56 L256.30 322.43 L256.75 322.39 L257.20 322.45 L257.65 322.28 L258.10 322.33 L258.55 322.03 L259.00 322.46 L259.45 322.14 L259.90 322.54 L260.35 322.38 L260.80 322.19 L261.25 322.08 L261.70 322.16 L262.15 322.38 L262.60 322.42 L263.05 322.07 L263.50 322.05 L263.95 322.31 L264.40 322.35" stroke="#000" stroke-width="1.3" fill="none" stroke-linejoin="round"/>
<path d="M207 271.4 H264.5 M207 267.2 V275.59999999999997 M264.5 267.2 V275.59999999999997" stroke="#444" stroke-width="1" fill="none"/>
<text x="240" y="277.6" font-size="4.2" text-anchor="middle" font-family="Liberation Sans, sans-serif" fill="#222">M1</text>
<text transform="translate(229.4 255.5) scale(1.0 1)" font-size="10" font-family="Liberation Sans, sans-serif" font-weight="bold" fill="#000" stroke="#000" stroke-width="0.3">MFI 47</text>
<text transform="translate(229.4 267.8) scale(1.0 1)" font-size="10" font-family="Liberation Sans, sans-serif" font-weight="bold" fill="#000" stroke="#000" stroke-width="0.3">87%</text>
<path d="M87.2 342.9 H163.5" stroke="#6a6a6a" stroke-width="1.2" fill="none"/>
<path d="M163.1 342.9 V417.3" stroke="#808080" stroke-width="1.0" fill="none"/>
<path d="M87.5 342.4 V417.3" stroke="#222" stroke-width="0.8" fill="none"/>
<path d="M86.5 342.9 V417.3" stroke="#444" stroke-width="1.4" stroke-dasharray="0.6 1.0" fill="none"/>
<path d="M87.80 417.26 L88.25 416.01 L88.70 415.08 L89.15 413.39 L89.60 412.33 L90.05 411.16 L90.50 410.41 L90.95 408.11 L91.40 406.15 L91.85 402.65 L92.30 399.48 L92.75 396.63 L93.20 394.79 L93.65 390.83 L94.10 386.58 L94.55 382.54 L95.00 379.77 L95.45 375.97 L95.90 371.10 L96.35 366.46 L96.80 363.44 L97.25 360.97 L97.70 357.13 L98.15 354.83 L98.60 354.93 L99.05 356.29 L99.50 358.76 L99.95 359.87 L100.40 364.20 L100.85 369.73 L101.30 376.26 L101.75 381.97 L102.20 388.85 L102.65 392.51 L103.10 397.61 L103.55 399.34 L104.00 401.67 L104.45 405.07 L104.90 406.52 L105.35 409.60 L105.80 410.47 L106.25 411.44 L106.70 412.80 L107.15 414.05 L107.60 415.02 L108.05 415.85 L108.50 416.06 L108.95 416.73 L109.40 416.86 L109.85 417.21 L110.30 416.86 L110.75 416.82 L111.20 416.83 L111.65 416.97 L112.10 417.19 L112.55 417.19 L113.00 417.13 L113.45 417.25 L113.90 417.22 L114.35 416.97 L114.80 416.91 L115.25 417.23 L115.70 417.15 L116.15 416.85 L116.60 417.13 L117.05 417.01 L117.50 417.01 L117.95 417.00 L118.40 416.93 L118.85 416.86 L119.30 416.98 L119.75 417.02 L120.20 417.27 L120.65 416.93 L121.10 417.28 L121.55 416.97 L122.00 417.04 L122.45 417.23 L122.90 417.24 L123.35 417.08 L123.80 416.92 L124.25 417.10 L124.70 417.06 L125.15 417.29 L125.60 417.00 L126.05 417.07 L126.50 417.29 L126.95 416.94 L127.40 417.10 L127.85 417.27 L128.30 417.25 L128.75 416.96 L129.20 416.96 L129.65 416.97 L130.10 417.33 L130.55 417.06 L131.00 417.26 L131.45 417.33 L131.90 417.10 L132.35 417.08 L132.80 417.36 L133.25 417.23 L133.70 417.09 L134.15 417.27 L134.60 417.11 L135.05 417.10 L135.50 416.99 L135.95 417.30 L136.40 417.37 L136.85 417.26 L137.30 417.39 L137.75 417.02 L138.20 417.11 L138.65 417.21 L139.10 417.41 L139.55 417.41 L140.00 417.18 L140.45 417.13 L140.90 417.21 L141.35 417.24 L141.80 417.41 L142.25 417.12 L142.70 417.37 L143.15 417.35 L143.60 417.38 L144.05 417.37 L144.50 417.31 L144.95 417.20 L145.40 417.20 L145.85 417.22 L146.30 417.39 L146.75 417.11 L147.20 417.16 L147.65 417.39 L148.10 417.19 L148.55 417.12 L149.00 417.11 L149.45 417.32 L149.90 417.23 L150.35 417.49 L150.80 417.46 L151.25 417.50 L151.70 417.22 L152.15 417.16 L152.60 417.17 L153.05 417.33 L153.50 417.41 L153.95 417.31 L154.40 417.23 L154.85 417.31 L155.30 417.39 L155.75 417.41 L156.20 417.45 L156.65 417.49 L157.10 417.42 L157.55 417.21 L158.00 417.49 L158.45 417.29 L158.90 417.40 L159.35 417.32 L159.80 417.47 L160.25 417.26 L160.70 417.29 L161.15 417.29 L161.60 417.26 L162.05 417.54 L162.50 417.43 L162.95 417.33" stroke="#3a3a3a" stroke-width="0.8" fill="none" stroke-linejoin="round"/>
<path d="M87.80 417.54 L88.25 417.88 L88.70 417.58 L89.15 417.41 L89.60 417.74 L90.05 417.64 L90.50 417.83 L90.95 417.28 L91.40 417.50 L91.85 417.69 L92.30 417.69 L92.75 417.73 L93.20 417.19 L93.65 417.33 L94.10 417.21 L94.55 417.24 L95.00 417.71 L95.45 417.46 L95.90 417.67 L96.35 417.31 L96.80 417.61 L97.25 417.34 L97.70 417.21 L98.15 417.52 L98.60 417.62 L99.05 417.07 L99.50 417.37 L99.95 417.37 L100.40 417.08 L100.85 417.14 L101.30 416.95 L101.75 416.96 L102.20 416.95 L102.65 417.15 L103.10 417.15 L103.55 416.80 L104.00 416.62 L104.45 416.81 L104.90 417.02 L105.35 416.63 L105.80 416.65 L106.25 416.42 L106.70 416.66 L107.15 416.22 L107.60 415.54 L108.05 415.32 L108.50 415.35 L108.95 415.26 L109.40 415.12 L109.85 414.26 L110.30 414.09 L110.75 414.48 L111.20 413.84 L111.65 413.28 L112.10 412.86 L112.55 413.40 L113.00 411.98 L113.45 411.92 L113.90 410.98 L114.35 410.45 L114.80 410.72 L115.25 410.35 L115.70 407.98 L116.15 406.26 L116.60 406.34 L117.05 403.52 L117.50 401.60 L117.95 402.71 L118.40 399.94 L118.85 399.64 L119.30 396.92 L119.75 396.38 L120.20 393.11 L120.65 390.15 L121.10 387.56 L121.55 386.77 L122.00 384.64 L122.45 383.02 L122.90 378.43 L123.35 377.75 L123.80 374.93 L124.25 373.26 L124.70 370.44 L125.15 369.26 L125.60 369.28 L126.05 371.39 L126.50 371.45 L126.95 375.97 L127.40 380.72 L127.85 384.79 L128.30 386.11 L128.75 389.38 L129.20 395.13 L129.65 398.46 L130.10 399.95 L130.55 401.45 L131.00 406.60 L131.45 407.60 L131.90 410.61 L132.35 411.42 L132.80 413.03 L133.25 413.31 L133.70 415.11 L134.15 415.44 L134.60 416.50 L135.05 417.43 L135.50 417.61 L135.95 417.21 L136.40 417.24 L136.85 417.35 L137.30 417.43 L137.75 417.35 L138.20 417.19 L138.65 417.27 L139.10 417.57 L139.55 417.68 L140.00 417.15 L140.45 417.48 L140.90 417.60 L141.35 417.16 L141.80 417.66 L142.25 417.22 L142.70 417.52 L143.15 417.49 L143.60 417.54 L144.05 417.35 L144.50 417.42 L144.95 417.52 L145.40 417.43 L145.85 417.57 L146.30 417.45 L146.75 417.45 L147.20 417.20 L147.65 417.56 L148.10 417.49 L148.55 417.34 L149.00 417.66 L149.45 417.67 L149.90 417.48 L150.35 417.32 L150.80 417.50 L151.25 417.28 L151.70 417.30 L152.15 417.48 L152.60 417.28 L153.05 417.49 L153.50 417.54 L153.95 417.26 L154.40 417.62 L154.85 417.29 L155.30 417.68 L155.75 417.71 L156.20 417.56 L156.65 417.29 L157.10 417.56 L157.55 417.49 L158.00 417.83 L158.45 417.35 L158.90 417.78 L159.35 417.87 L159.80 417.71 L160.25 417.77 L160.70 417.40 L161.15 417.87 L161.60 417.59 L162.05 417.86 L162.50 417.84 L162.95 417.40" stroke="#000" stroke-width="1.3" fill="none" stroke-linejoin="round"/>
<path d="M109.2 363.8 H163.1 M109.2 359.6 V368.0 M163.1 359.6 V368.0" stroke="#444" stroke-width="1" fill="none"/>
<text transform="translate(129.1 357.0) scale(1.0 1)" font-size="10" font-family="Liberation Sans, sans-serif" font-weight="bold" fill="#000" stroke="#000" stroke-width="0.3">MFI 88</text>
<text transform="translate(129.1 368.9) scale(1.0 1)" font-size="10" font-family="Liberation Sans, sans-serif" font-weight="bold" fill="#000" stroke="#000" stroke-width="0.3">99%</text>
<path d="M188.29999999999998 342.6 H264.9" stroke="#6a6a6a" stroke-width="1.2" fill="none"/>
<path d="M264.5 342.6 V417.3" stroke="#5a5a5a" stroke-width="1.0" fill="none"/>
<path d="M188.6 342.1 V417.3" stroke="#222" stroke-width="0.8" fill="none"/>
<path d="M187.6 342.6 V417.3" stroke="#444" stroke-width="1.4" stroke-dasharray="0.6 1.0" fill="none"/>
<path d="M189.00 417.41 L189.45 416.80 L189.90 415.63 L190.35 415.08 L190.80 414.62 L191.25 413.13 L191.70 412.63 L192.15 410.57 L192.60 409.71 L193.05 406.32 L193.50 404.00 L193.95 401.67 L194.40 397.00 L194.85 393.52 L195.30 390.21 L195.75 386.02 L196.20 381.59 L196.65 377.77 L197.10 373.34 L197.55 370.35 L198.00 365.51 L198.45 362.02 L198.90 357.22 L199.35 356.00 L199.80 354.32 L200.25 356.67 L200.70 358.85 L201.15 360.13 L201.60 363.39 L202.05 366.31 L202.50 371.09 L202.95 376.88 L203.40 381.13 L203.85 389.46 L204.30 395.30 L204.75 400.46 L205.20 405.94 L205.65 408.40 L206.10 411.32 L206.55 412.13 L207.00 413.19 L207.45 414.56 L207.90 415.13 L208.35 415.73 L208.80 416.68 L209.25 416.72 L209.70 417.14 L210.15 416.90 L210.60 417.07 L211.05 417.22 L211.50 417.06 L211.95 417.09 L212.40 416.94 L212.85 416.81 L213.30 416.83 L213.75 416.88 L214.20 417.09 L214.65 417.01 L215.10 417.05 L215.55 417.22 L216.00 416.89 L216.45 416.94 L216.90 417.12 L217.35 416.86 L217.80 416.85 L218.25 417.01 L218.70 416.90 L219.15 417.01 L219.60 416.96 L220.05 417.12 L220.50 417.12 L220.95 416.96 L221.40 417.14 L221.85 417.08 L222.30 416.94 L222.75 417.28 L223.20 417.00 L223.65 416.96 L224.10 416.94 L224.55 417.17 L225.00 417.27 L225.45 417.24 L225.90 417.08 L226.35 417.03 L226.80 416.93 L227.25 417.19 L227.70 417.16 L228.15 417.08 L228.60 417.20 L229.05 417.12 L229.50 417.33 L229.95 417.25 L230.40 417.05 L230.85 417.32 L231.30 416.98 L231.75 417.18 L232.20 417.13 L232.65 417.06 L233.10 416.99 L233.55 417.29 L234.00 416.98 L234.45 417.21 L234.90 417.37 L235.35 417.05 L235.80 417.07 L236.25 417.24 L236.70 417.20 L237.15 417.26 L237.60 417.33 L238.05 417.08 L238.50 417.14 L238.95 417.14 L239.40 417.04 L239.85 417.38 L240.30 417.34 L240.75 417.32 L241.20 417.04 L241.65 417.38 L242.10 417.34 L242.55 417.23 L243.00 417.34 L243.45 417.23 L243.90 417.14 L244.35 417.10 L244.80 417.15 L245.25 417.08 L245.70 417.20 L246.15 417.37 L246.60 417.35 L247.05 417.41 L247.50 417.36 L247.95 417.19 L248.40 417.31 L248.85 417.26 L249.30 417.41 L249.75 417.31 L250.20 417.21 L250.65 417.36 L251.10 417.49 L251.55 417.20 L252.00 417.46 L252.45 417.13 L252.90 417.23 L253.35 417.22 L253.80 417.42 L254.25 417.50 L254.70 417.43 L255.15 417.27 L255.60 417.49 L256.05 417.28 L256.50 417.24 L256.95 417.51 L257.40 417.40 L257.85 417.43 L258.30 417.42 L258.75 417.55 L259.20 417.35 L259.65 417.50 L260.10 417.45 L260.55 417.51 L261.00 417.35 L261.45 417.47 L261.90 417.41 L262.35 417.31 L262.80 417.28 L263.25 417.44 L263.70 417.24" stroke="#3a3a3a" stroke-width="0.8" fill="none" stroke-linejoin="round"/>
<path d="M189.00 417.84 L189.45 417.36 L189.90 417.25 L190.35 417.27 L190.80 417.73 L191.25 417.34 L191.70 417.19 L192.15 417.08 L192.60 417.05 L193.05 417.43 L193.50 417.36 L193.95 417.37 L194.40 417.37 L194.85 416.89 L195.30 417.21 L195.75 417.02 L196.20 417.25 L196.65 417.15 L197.10 417.09 L197.55 416.34 L198.00 416.84 L198.45 416.76 L198.90 416.67 L199.35 415.84 L199.80 415.79 L200.25 415.54 L200.70 415.28 L201.15 415.88 L201.60 415.68 L202.05 415.32 L202.50 415.35 L202.95 414.96 L203.40 414.37 L203.85 413.93 L204.30 413.71 L204.75 414.33 L205.20 413.41 L205.65 413.34 L206.10 413.28 L206.55 412.48 L207.00 412.57 L207.45 412.35 L207.90 412.78 L208.35 411.98 L208.80 411.65 L209.25 412.50 L209.70 411.46 L210.15 411.84 L210.60 411.18 L211.05 409.81 L211.50 410.29 L211.95 410.08 L212.40 410.50 L212.85 409.29 L213.30 409.71 L213.75 409.00 L214.20 407.90 L214.65 409.04 L215.10 406.68 L215.55 407.95 L216.00 405.63 L216.45 404.51 L216.90 404.47 L217.35 405.42 L217.80 405.34 L218.25 401.88 L218.70 402.51 L219.15 401.77 L219.60 401.89 L220.05 399.45 L220.50 399.63 L220.95 398.55 L221.40 399.23 L221.85 396.95 L222.30 398.20 L222.75 395.67 L223.20 394.77 L223.65 395.33 L224.10 393.90 L224.55 391.91 L225.00 392.45 L225.45 389.86 L225.90 390.71 L226.35 389.31 L226.80 388.47 L227.25 387.06 L227.70 385.39 L228.15 384.54 L228.60 383.09 L229.05 382.33 L229.50 377.76 L229.95 379.40 L230.40 379.19 L230.85 383.26 L231.30 387.02 L231.75 392.24 L232.20 394.28 L232.65 397.00 L233.10 401.48 L233.55 402.58 L234.00 405.87 L234.45 408.55 L234.90 411.42 L235.35 413.66 L235.80 415.42 L236.25 416.55 L236.70 417.30 L237.15 417.40 L237.60 417.80 L238.05 417.69 L238.50 417.74 L238.95 417.41 L239.40 417.56 L239.85 417.76 L240.30 417.65 L240.75 417.38 L241.20 417.58 L241.65 417.82 L242.10 417.45 L242.55 417.42 L243.00 417.48 L243.45 417.72 L243.90 417.80 L244.35 417.40 L244.80 417.40 L245.25 417.45 L245.70 417.50 L246.15 417.61 L246.60 417.40 L247.05 417.50 L247.50 417.42 L247.95 417.88 L248.40 417.73 L248.85 417.37 L249.30 417.87 L249.75 417.37 L250.20 417.53 L250.65 417.88 L251.10 417.77 L251.55 417.74 L252.00 417.56 L252.45 417.42 L252.90 417.68 L253.35 417.37 L253.80 417.43 L254.25 417.53 L254.70 417.33 L255.15 417.54 L255.60 417.77 L256.05 417.71 L256.50 417.60 L256.95 417.68 L257.40 417.58 L257.85 417.39 L258.30 417.66 L258.75 417.54 L259.20 417.74 L259.65 417.84 L260.10 417.56 L260.55 417.64 L261.00 417.75 L261.45 417.55 L261.90 417.44 L262.35 417.73 L262.80 417.82 L263.25 417.76 L263.70 417.72" stroke="#000" stroke-width="1.3" fill="none" stroke-linejoin="round"/>
<path d="M208.4 359.5 H264.5 M208.4 355.3 V363.7 M264.5 355.3 V363.7" stroke="#444" stroke-width="1" fill="none"/>
<text transform="translate(229.2 357.0) scale(1.0 1)" font-size="10" font-family="Liberation Sans, sans-serif" font-weight="bold" fill="#000" stroke="#000" stroke-width="0.3">MFI 95</text>
<text transform="translate(229.2 369.2) scale(1.0 1)" font-size="10" font-family="Liberation Sans, sans-serif" font-weight="bold" fill="#000" stroke="#000" stroke-width="0.3">96%</text>
<path d="M78 326.1 H265" stroke="#666" stroke-width="1.3" fill="none"/>
<path d="M264 323.6 L269 326.1 L264 328.6 Z" fill="#000"/>
<path d="M78 428.4 H264" stroke="#555" stroke-width="1.1" fill="none"/>
<path d="M262.6 426 L267.7 428.4 L262.6 430.8 Z" fill="#000"/>
<text transform="translate(177.2 337.8) scale(1.0 1)" font-size="10" text-anchor="middle" font-family="Liberation Sans, sans-serif" font-weight="bold" fill="#000" stroke="#000" stroke-width="0.3">C3b/iC3b</text>
<text transform="translate(172.2 440.8) scale(1.0 1)" font-size="10" text-anchor="middle" font-family="Liberation Sans, sans-serif" font-weight="bold" fill="#000" stroke="#000" stroke-width="0.3">C3b/iC3b/C3dg</text>
<rect x="279.5" y="243.4" width="81.7" height="29" fill="#fff" stroke="#333" stroke-width="1"/>
<path d="M290 254.9 H299.3" stroke="#666" stroke-width="1.1"/>
<path d="M290 266.3 H299.3" stroke="#000" stroke-width="1.8"/>
<text transform="translate(305.6 256.9) scale(1.0 1)" font-size="10" font-family="Liberation Sans, sans-serif" font-weight="bold" fill="#000" stroke="#000" stroke-width="0.3">CTR</text>
<text transform="translate(305.6 269.4) scale(1.0 1)" font-size="10" font-family="Liberation Sans, sans-serif" font-weight="bold" fill="#000" stroke="#000" stroke-width="0.3">100 &#181;g/mL</text>
</svg>
</body></html>
